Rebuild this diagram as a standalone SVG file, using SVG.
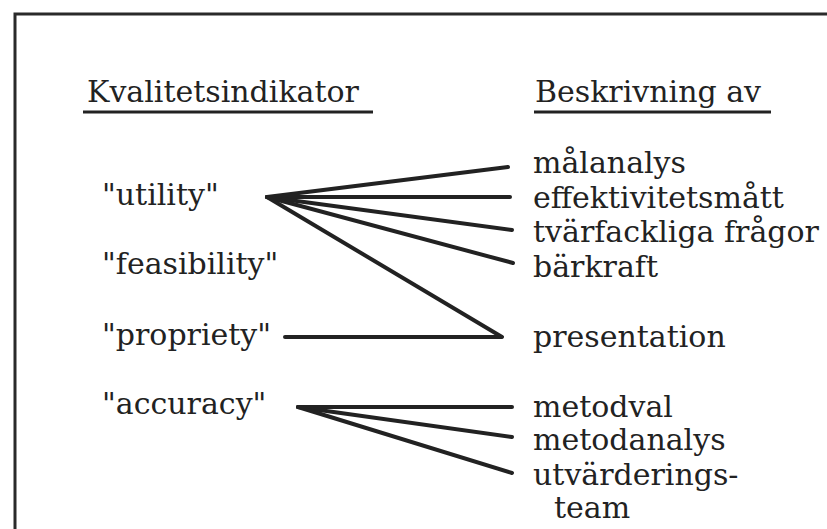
<svg xmlns="http://www.w3.org/2000/svg" width="827" height="529" viewBox="0 0 827 529">
<style>
text{font-family:"DejaVu Serif","Liberation Serif",serif;font-size:30px;fill:#222}
.frame{stroke:#2a2a2a;stroke-width:3;fill:none}
.ul{stroke:#222;stroke-width:3}
.c{stroke:#222;stroke-width:4;fill:none;stroke-linecap:round;stroke-linejoin:round}
</style>
<rect x="0" y="0" width="827" height="529" fill="#fff"/>
<path class="frame" d="M15 529 V14 H827"/>
<g id="header-left"><text x="87" y="102">Kvalitetsindikator</text><line class="ul" x1="83" y1="112" x2="373" y2="112"/></g>
<g id="header-right"><text x="535" y="102">Beskrivning av</text><line class="ul" x1="534" y1="112" x2="771" y2="112"/></g>
<g id="utility"><text x="102" y="205">"utility"</text></g>
<g id="feasibility"><text x="102" y="274">"feasibility"</text></g>
<g id="propriety"><text x="102" y="345">"propriety"</text></g>
<g id="accuracy"><text x="102" y="414">"accuracy"</text></g>
<g id="malanalys"><text x="533" y="173">målanalys</text></g>
<g id="effektivitetsmatt"><text x="533" y="208">effektivitetsmått</text></g>
<g id="tvarfackliga"><text x="533" y="242">tvärfackliga frågor</text></g>
<g id="barkraft"><text x="533" y="277">bärkraft</text></g>
<g id="presentation"><text x="533" y="347">presentation</text></g>
<g id="metodval"><text x="533" y="417">metodval</text></g>
<g id="metodanalys"><text x="533" y="450">metodanalys</text></g>
<g id="utvarderingsteam"><text x="533" y="485">utvärderings-</text><text x="554" y="518">team</text></g>
<g id="connectors">
<line class="c" x1="267" y1="197" x2="508" y2="167"/>
<line class="c" x1="267" y1="197" x2="510" y2="197"/>
<line class="c" x1="267" y1="197" x2="512" y2="230"/>
<line class="c" x1="267" y1="197" x2="513" y2="263"/>
<polyline class="c" points="267,197 502,337 285,337"/>
<line class="c" x1="298" y1="407" x2="512" y2="407"/>
<line class="c" x1="298" y1="407" x2="512" y2="437"/>
<line class="c" x1="298" y1="407" x2="512" y2="473"/>
</g>
</svg>
